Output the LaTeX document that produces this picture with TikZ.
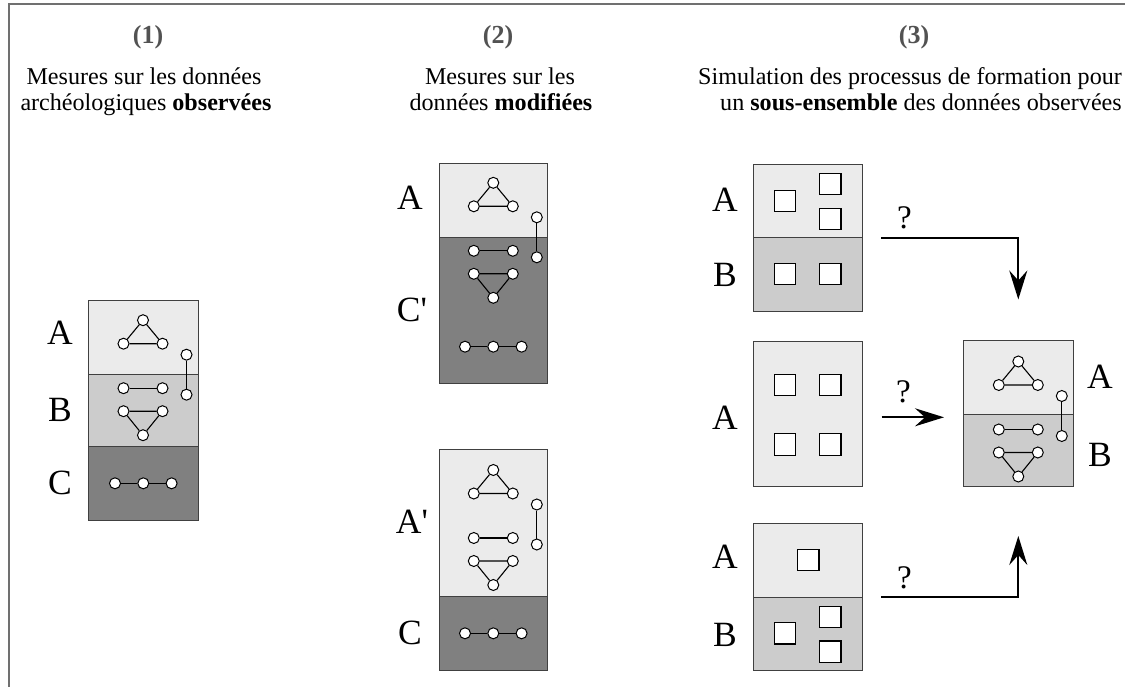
\documentclass[tikz,border=0pt]{standalone}
\usepackage{fontspec}
\setmainfont{Liberation Serif}
\usetikzlibrary{arrows.meta}
\definecolor{lA}{HTML}{EBEBEB}
\definecolor{lB}{HTML}{CCCCCC}
\definecolor{lC}{HTML}{808080}
\definecolor{frm}{HTML}{707070}
\definecolor{edgec}{HTML}{404040}
\tikzset{
 dot/.style={circle,draw=black,fill=white,line width=1pt,minimum size=11pt,inner sep=0pt},
 link/.style={line width=1.1pt},
 sq/.style={rectangle,draw=black,fill=white,line width=1.2pt,minimum size=21.5pt,inner sep=0pt},
 big/.style={font=\fontsize{35.5}{40}\selectfont,inner sep=0pt},
 qmark/.style={font=\fontsize{33}{40}\selectfont,inner sep=0pt},
 head/.style={font=\fontsize{24.1}{28}\selectfont,anchor=base,inner sep=0pt},
 num/.style={font=\fontsize{26}{30}\selectfont\bfseries,text=black!68,inner sep=0pt},
 layer/.style={draw=edgec,line width=1pt},
 flow/.style={line width=2pt,-{Stealth[length=29pt,width=18pt,inset=10pt]}},
}
% #1 prefix, #2 centre x, #3 top of upper layer
\newcommand\graphstack[3]{%
 \node[dot] (#1t) at (#2,#3+19.5) {};
 \node[dot] (#1l) at (#2-19.5,#3+43) {};
 \node[dot] (#1r) at (#2+19.5,#3+43) {};
 \node[dot] (#1p) at (#2+43.5,#3+54) {};
 \node[dot] (#1q) at (#2+43.5,#3+94) {};
 \node[dot] (#1e) at (#2-19.5,#3+87.5) {};
 \node[dot] (#1f) at (#2+19.5,#3+87.5) {};
 \node[dot] (#1g) at (#2-19.5,#3+110.5) {};
 \node[dot] (#1h) at (#2+19.5,#3+110.5) {};
 \node[dot] (#1k) at (#2,#3+134.5) {};
 \draw[link] (#1t)--(#1l) (#1l)--(#1r) (#1r)--(#1t);
 \draw[link] (#1p)--(#1q);
 \draw[link] (#1e)--(#1f);
 \draw[link] (#1g)--(#1h) (#1h)--(#1k) (#1k)--(#1g);
}
\newcommand\chainrow[3]{%
 \node[dot] (#1a) at (#2-28.3,#3) {};
 \node[dot] (#1b) at (#2,#3) {};
 \node[dot] (#1c) at (#2+28.3,#3) {};
 \draw[link] (#1a)--(#1b) (#1b)--(#1c);
}
\begin{document}
\begin{tikzpicture}[x=1pt,y=-1pt]
\useasboundingbox (0,0) rectangle (1125,687);
\fill[white] (0,0) rectangle (1125,687);
% frame
\draw[frm,line width=2pt] (9,687) -- (9,4) -- (1125,4);

% headers
\node[num] (n1) at (148,37) {(1)};
\node[num] (n2) at (498,37) {(2)};
\node[num] (n3) at (914,37) {(3)};
\node[head] (h1a) at (144,85) {Mesures sur les données};
\node[head] (h1b) at (146,111) {archéologiques \textbf{observées}};
\node[head] (h2a) at (500,85) {Mesures sur les};
\node[head] (h2b) at (501,111) {données \textbf{modifiées}};
\node[head] (h3a) at (910,85) {Simulation des processus de formation pour};
\node[head] (h3b) at (921,111) {un \textbf{sous-ensemble} des données observées};

% ---------- column 1 ----------
\fill[lA] (88,300.7) rectangle (198,374.3);
\fill[lB] (88,374.3) rectangle (198,446.7);
\fill[lC] (88,446.7) rectangle (198,520);
\draw[layer] (88,374.3) -- (198,374.3) (88,446.7) -- (198,446.7);
\draw[layer] (88,300.7) rectangle (198,520);
\graphstack{c1}{143}{300.7}
\chainrow{c1k}{143.3}{483.3}
\node[big] (l1a) at (60,333) {A};
\node[big] (l1b) at (60,410) {B};
\node[big] (l1c) at (60,483) {C};

% ---------- column 2 top ----------
\fill[lA] (439,163.3) rectangle (547,237.3);
\fill[lC] (439,237.3) rectangle (547,383.3);
\draw[layer] (439,237.3) -- (547,237.3);
\draw[layer] (439,163.3) rectangle (547,383.3);
\graphstack{c2}{493.3}{163.3}
\chainrow{c2k}{493.3}{346.7}
\node[big] (l2a) at (410,198) {A};
\node[big] (l2c) at (412,310) {C\textquotesingle};

% ---------- column 2 bottom ----------
\fill[lA] (439,449) rectangle (547,596.7);
\fill[lC] (439,596.7) rectangle (547,670);
\draw[layer] (439,596.7) -- (547,596.7);
\draw[layer] (439,449) rectangle (547,670);
\graphstack{c3}{493.3}{450.5}
\chainrow{c3k}{493.3}{633.3}
\node[big] (l3a) at (412,522) {A\textquotesingle};
\node[big] (l3c) at (410,633) {C};

% ---------- column 3 top ----------
\fill[lA] (753.3,164.3) rectangle (862.7,237.7);
\fill[lB] (753.3,237.7) rectangle (862.7,311);
\draw[layer] (753.3,237.7) -- (862.7,237.7);
\draw[layer] (753.3,164.3) rectangle (862.7,311);
\node[sq] (s1) at (785,201) {};
\node[sq] (s2) at (830.3,184) {};
\node[sq] (s3) at (830.3,219) {};
\node[sq] (s4) at (785,274) {};
\node[sq] (s5) at (830.3,274) {};
\node[big] (l4a) at (725,200) {A};
\node[big] (l4b) at (725,275) {B};

% ---------- column 3 middle ----------
\fill[lA] (753.3,341.7) rectangle (862.7,486.7);
\draw[layer] (753.3,341.7) rectangle (862.7,486.7);
\node[sq] (s6) at (785,385) {};
\node[sq] (s7) at (830.3,385) {};
\node[sq] (s8) at (785,444.5) {};
\node[sq] (s9) at (830.3,444.5) {};
\node[big] (l5a) at (725,418) {A};

% ---------- column 3 bottom ----------
\fill[lA] (753.3,523.3) rectangle (862.7,597.3);
\fill[lB] (753.3,597.3) rectangle (862.7,670);
\draw[layer] (753.3,597.3) -- (862.7,597.3);
\draw[layer] (753.3,523.3) rectangle (862.7,670);
\node[sq] (s10) at (808.3,560) {};
\node[sq] (s11) at (785,633.3) {};
\node[sq] (s12) at (830.3,617) {};
\node[sq] (s13) at (830.3,651.7) {};
\node[big] (l6a) at (725,557) {A};
\node[big] (l6b) at (725,635) {B};

% ---------- result box ----------
\fill[lA] (963.3,340.7) rectangle (1073.3,414.3);
\fill[lB] (963.3,414.3) rectangle (1073.3,486.7);
\draw[layer] (963.3,414.3) -- (1073.3,414.3);
\draw[layer] (963.3,340.7) rectangle (1073.3,486.7);
\graphstack{r}{1018.3}{342}
\node[big] (l7a) at (1100,377) {A};
\node[big] (l7b) at (1100,455) {B};

% ---------- arrows ----------
\coordinate (a1s) at (881,238.5);
\coordinate (a1e) at (1018.3,299.5);
\coordinate (a2s) at (881.5,417.3);
\coordinate (a2e) at (944,417.3);
\coordinate (a3s) at (881,596.7);
\coordinate (a3e) at (1018.3,536);
\draw[flow] (a1s) -| (a1e);
\draw[flow] (a2s) -- (a2e);
\draw[flow] (a3s) -| (a3e);
\node[qmark] (q1) at (904.5,218) {?};
\node[qmark] (q2) at (903.5,392) {?};
\node[qmark] (q3) at (904.5,578) {?};
\end{tikzpicture}
\end{document}
